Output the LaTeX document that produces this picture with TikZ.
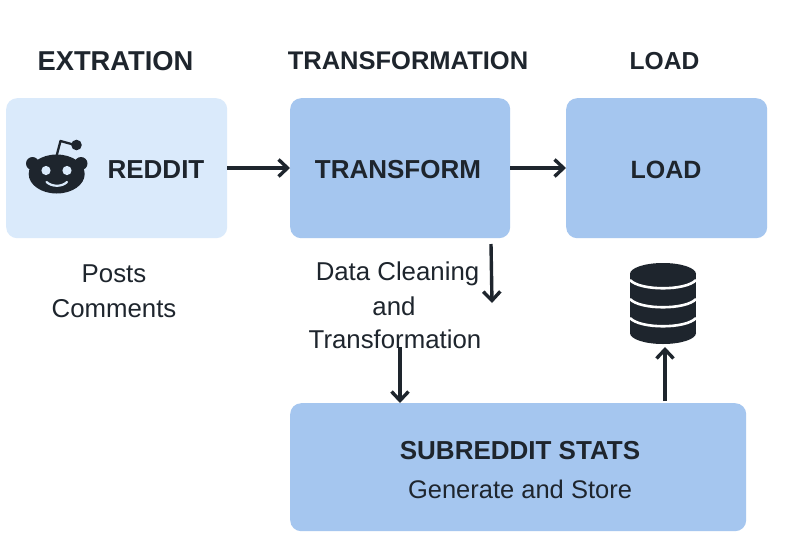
\documentclass[tikz,border=0pt]{standalone}
\usepackage{fontspec}
\setmainfont{Liberation Sans}
\usetikzlibrary{arrows.meta}
\definecolor{ink}{HTML}{1E252D}
\definecolor{pale}{HTML}{DAEAFB}
\definecolor{midblue}{HTML}{A5C6EF}
\tikzset{
  box/.style={rectangle,rounded corners=11pt,inner sep=0pt,anchor=north west,draw=none},
  title/.style={font=\fontsize{26}{28}\selectfont\bfseries,text=ink,inner sep=0pt},
  boxlabel/.style={font=\fontsize{26}{28}\selectfont\bfseries,text=ink,inner sep=0pt},
  body/.style={font=\fontsize{25.8}{28}\selectfont,text=ink,inner sep=0pt},
  conn/.style={draw=ink,line width=3.4pt,-{Straight Barb[length=9pt,width=17pt,line width=3.4pt]}},
  band/.style={draw=white,line width=2.6pt},
}
\begin{document}
\begin{tikzpicture}[x=1pt,y=-1pt]
\useasboundingbox (0,0) rectangle (796,539);
\fill[white] (0,0) rectangle (796,539);
\node[box,fill=pale,minimum width=221pt,minimum height=140pt] (reddit) at (6,98) {};
\node[box,fill=midblue,minimum width=220pt,minimum height=140pt] (transform) at (290,98) {};
\node[box,fill=midblue,minimum width=201pt,minimum height=140pt] (load) at (566,98) {};
\node[box,fill=midblue,minimum width=456pt,minimum height=128pt] (stats) at (290,403) {};
\node[title,font=\fontsize{27.3}{28}\selectfont\bfseries] (t1) at (115.5,61) {EXTRATION};
\node[title,font=\fontsize{25.5}{28}\selectfont\bfseries] (t2) at (408,61) {TRANSFORMATION};
\node[title,font=\fontsize{24.6}{28}\selectfont\bfseries] (t3) at (664.5,61) {LOAD};
\node[boxlabel] (l1) at (156,170) {REDDIT};
\node[boxlabel] (l2) at (398,170) {TRANSFORM};
\node[boxlabel,font=\fontsize{25}{28}\selectfont\bfseries] (l3) at (666,170) {LOAD};
\node[boxlabel] (l4) at (520,451) {SUBREDDIT STATS};
\node[body,font=\fontsize{25.5}{28}\selectfont] (s4) at (520,489) {Generate and Store};
\node[body] (p1) at (114,274) {Posts};
\node[body] (p2) at (114,309) {Comments};
\node[body] (d1) at (397.5,273.5) {Data Cleaning};
\node[body] (d2) at (394,306.5) {and};
\node[body] (d3) at (395,339.5) {Transformation};
% reddit icon
\fill[ink] (56.7,174) ellipse [x radius=28,y radius=19.5];
\fill[ink] (32.5,163.5) circle (6.5);
\fill[ink] (81,163.5) circle (6.5);
\draw[ink,line width=2.3pt,line join=round] (56,158) -- (60.5,141) -- (75,145);
\fill[ink] (76.5,145) circle (5.3);
\fill[pale] (46,170.5) circle (4.6);
\fill[pale] (67,170.5) circle (4.6);
\draw[pale,line width=2.2pt,line cap=round] (46.5,182) .. controls (52,187) and (62,187) .. (67,182);
% database icon
\fill[ink] (663,274) ellipse [x radius=33,y radius=11];
\fill[ink] (663,333) ellipse [x radius=33,y radius=11];
\fill[ink] (630,274) rectangle (696,333);
\draw[band] (630,280) .. controls (640,291) and (686,291) .. (696,280);
\draw[band] (630,299) .. controls (640,310) and (686,310) .. (696,299);
\draw[band] (630,318) .. controls (640,329) and (686,329) .. (696,318);
\coordinate (a1) at (491,244);
\coordinate (a2) at (492,303);
\coordinate (a3) at (400,347);
\coordinate (a5) at (665,401);
\coordinate (a6) at (665,347);
\draw[conn] (reddit.east |- 0,168) -- (transform.west |- 0,168);
\draw[conn] (transform.east |- 0,168) -- (load.west |- 0,168);
\draw[conn] (a1) -- (a2);
\draw[conn] (a3) -- (a3 |- stats.north);
\draw[conn] (a5) -- (a6);
\end{tikzpicture}
\end{document}
